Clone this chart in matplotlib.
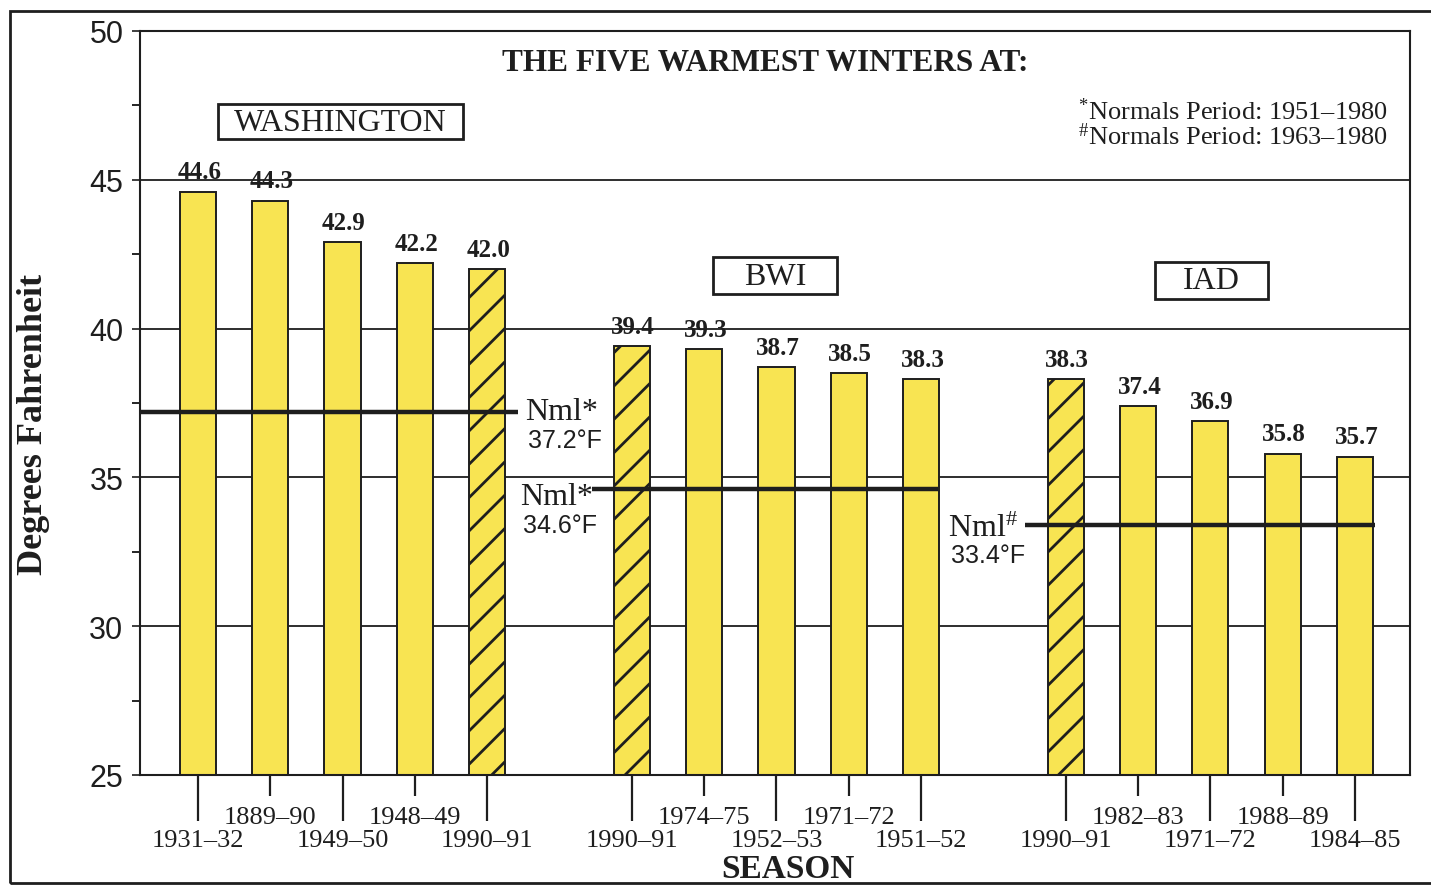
import matplotlib
matplotlib.use("Agg")
import matplotlib.pyplot as plt
from matplotlib.patches import Rectangle
from matplotlib.ticker import FixedLocator, FixedFormatter

# ---------------- data ----------------
stations = ["WASHINGTON", "BWI", "IAD"]
seasons_wash = ["1931–32", "1889–90", "1949–50", "1948–49", "1990–91"]
temps_wash = [44.6, 44.3, 42.9, 42.2, 42.0]
seasons_bwi = ["1990–91", "1974–75", "1952–53", "1971–72", "1951–52"]
temps_bwi = [39.4, 39.3, 38.7, 38.5, 38.3]
seasons_iad = ["1990–91", "1982–83", "1971–72", "1988–89", "1984–85"]
temps_iad = [38.3, 37.4, 36.9, 35.8, 35.7]
normals = [37.2, 34.6, 33.4]
normal_marks = ["*", "*", "#"]
hatched_season = "1990–91"

title = "THE FIVE WARMEST WINTERS AT:"
notes = ["$^{*}$Normals Period: 1951–1980", "$^{\\#}$Normals Period: 1963–1980"]

# ---------------- style ----------------
plt.rcParams["font.family"] = ["Liberation Serif", "DejaVu Serif"]
plt.rcParams["mathtext.fontset"] = "custom"
plt.rcParams["mathtext.rm"] = "Liberation Serif"
plt.rcParams["mathtext.it"] = "Liberation Serif"
plt.rcParams["mathtext.bf"] = "Liberation Serif:bold"
plt.rcParams["hatch.linewidth"] = 2.0

BAR_COLOR = "#F8E452"
INK = "#1e1e1e"
plt.rcParams["hatch.color"] = INK

fig = plt.figure(figsize=(14.31, 8.87), dpi=100)
ax = fig.add_axes([140 / 1431, 1 - 776 / 887, 1270 / 1431, 744 / 887])

groups = [(seasons_wash, temps_wash), (seasons_bwi, temps_bwi), (seasons_iad, temps_iad)]
GROUP_STEP = 6
width = 0.5

major_pos, major_lab, minor_pos, minor_lab = [], [], [], []
for g, (seas, temps) in enumerate(groups):
    xs = [g * GROUP_STEP + i for i in range(len(temps))]
    for x, s, t in zip(xs, seas, temps):
        hatch = "/" if s == hatched_season else None
        ax.bar(x, t - 25, bottom=25, width=width, color=BAR_COLOR,
               edgecolor=INK, linewidth=1.4, hatch=hatch, zorder=2)
        ax.annotate(f"{t:.1f}", (x, t), xytext=(1, 6), textcoords="offset points",
                    ha="center", va="bottom", fontsize=18, fontweight="bold",
                    color=INK, zorder=5)
        if (x - g * GROUP_STEP) % 2 == 0:
            major_pos.append(x); major_lab.append(s)
        else:
            minor_pos.append(x); minor_lab.append(s)

# normal lines
x0 = -0.8
norm_extents = [(x0, 4.43), (5.45, 10.23), (11.44, 16.28)]
for (a, b), n in zip(norm_extents, normals):
    ax.plot([a, b], [n, n], color=INK, lw=3.2, zorder=4, solid_capstyle="butt")

# normal labels
nml_pos = [(4.52, 37.2, 36.25), (4.45, 34.35, 33.4), (10.37, 33.3, 32.4)]
for (lx, y1, y2), n, m in zip(nml_pos, normals, normal_marks):
    lab = "Nml*" if m == "*" else "Nml$^{\\#}$"
    ax.text(lx, y1, lab, fontsize=23, ha="left", va="center", color=INK, zorder=6)
    ax.text(lx + 0.05, y2, f"{n:.1f}°F", fontsize=18, ha="left", va="center",
            color=INK, family=["Liberation Sans", "DejaVu Sans"], zorder=6)

# station boxes (box extents in data units)
box_rects = [(0.28, 3.67, 46.37, 47.55), (7.12, 8.84, 41.16, 42.40),
             (13.24, 14.79, 41.0, 42.24)]
for (xa, xb, ya, yb), name in zip(box_rects, stations):
    ax.add_patch(Rectangle((xa, ya), xb - xa, yb - ya, fill=True, fc="white",
                           ec=INK, lw=2, zorder=5))
    ax.text((xa + xb) / 2, (ya + yb) / 2 - 0.02, name, fontsize=23, ha="center",
            va="center", color=INK, zorder=6)

ax.text(7.84, 48.93, title, fontsize=22.5, fontweight="bold", ha="center",
        va="center", color=INK)
ax.text(16.46, 47.31, notes[0], fontsize=19, ha="right", va="center", color=INK)
ax.text(16.46, 46.47, notes[1], fontsize=19, ha="right", va="center", color=INK)

# axes
ax.set_xlim(x0, 16.76)
ax.set_ylim(25, 50)
ax.set_yticks([25, 30, 35, 40, 45, 50])
ax.set_yticks([27.5, 32.5, 37.5, 42.5, 47.5], minor=True)
ax.yaxis.grid(True, which="major", color=INK, lw=1.3)
ax.set_axisbelow(True)
for lab in ax.get_yticklabels():
    lab.set_fontfamily(["Liberation Sans", "DejaVu Sans"])
ax.tick_params(axis="y", which="major", length=6, width=1.2, pad=6,
               labelsize=22, colors=INK)
ax.tick_params(axis="y", which="minor", length=6, width=1.2)

ax.xaxis.set_major_locator(FixedLocator(major_pos))
ax.xaxis.set_major_formatter(FixedFormatter(major_lab))
ax.xaxis.set_minor_locator(FixedLocator(minor_pos))
ax.xaxis.set_minor_formatter(FixedFormatter(minor_lab))
ax.tick_params(axis="x", which="major", length=33, width=1.6, pad=6,
               labelsize=19, colors=INK)
ax.tick_params(axis="x", which="minor", length=15, width=1.6, pad=7,
               labelsize=19, colors=INK)
for sp in ax.spines.values():
    sp.set_linewidth(1.5)
    sp.set_color(INK)

ax.set_ylabel("Degrees Fahrenheit", fontsize=26, fontweight="bold", color=INK)
ax.yaxis.set_label_coords(-0.071, 0.472)
fig.text(788 / 1431, 1 - 870 / 887, "SEASON", fontsize=24, fontweight="bold",
         ha="center", va="center", color=INK)

# page frame
fig.patches.append(Rectangle((10 / 1431, 3 / 887), 1.2, (884 - 12) / 887,
                             transform=fig.transFigure, fill=False, ec=INK,
                             lw=2, zorder=0))

fig.savefig("out.png", dpi=100)
